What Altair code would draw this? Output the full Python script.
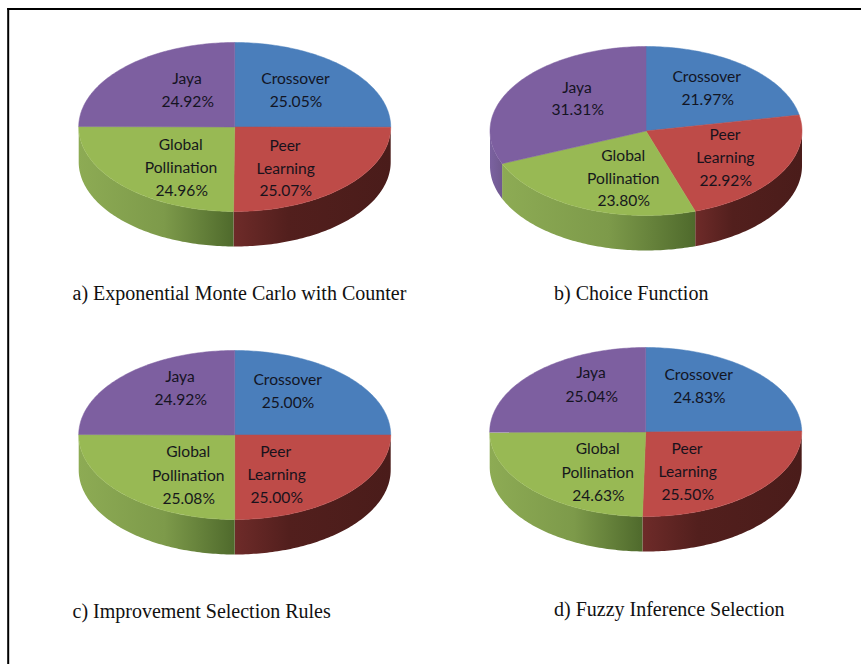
import math
import altair as alt
import pandas as pd

# Share of each low-level heuristic under the four selection methods
captions = [
    "a) Exponential Monte Carlo with Counter",
    "b) Choice Function",
    "c) Improvement Selection Rules",
    "d) Fuzzy Inference Selection",
]
slice_names = ["Crossover", "Peer Learning", "Global Pollination", "Jaya"]
crossover = [25.05, 21.97, 25.00, 24.83]
peer_learning = [25.07, 22.92, 25.00, 25.50]
global_pollination = [24.96, 23.80, 25.08, 24.63]
jaya = [24.92, 31.31, 24.92, 25.04]

# Page layout, in pixels
WIDTH, HEIGHT = 861, 664
pie_cx = [234.7, 646.0, 234.7, 645.7]
pie_cy = [127.0, 131.0, 435.0, 432.0]
RX, RY, DEPTH = 156.0, 84.5, 35.0
caption_x = [72.5, 554.0, 72.5, 554.0]
caption_y = [293.5, 293.5, 612.0, 609.5]

# Label block anchors: one (x, y) per text line, same order as the slices
label_lines = [
    [
        [(295.5, 79), (296, 101.7)],
        [(285, 145.5), (285.7, 168.5), (285.7, 191)],
        [(180.7, 145), (181, 167.7), (181.7, 190.7)],
        [(187, 79), (187.7, 101.7)],
    ],
    [
        [(706.7, 77.3), (707.7, 100)],
        [(725, 135), (725.3, 158), (725.7, 180.7)],
        [(623.3, 155.7), (623.3, 178.7), (623.7, 201.3)],
        [(577, 87.7), (577.7, 110)],
    ],
    [
        [(287.7, 380), (288, 402.7)],
        [(275.7, 452), (276.7, 475.3), (276.7, 498)],
        [(188.3, 452.3), (188.3, 475.7), (188.7, 499)],
        [(180, 376.7), (180.7, 400)],
    ],
    [
        [(698.7, 375), (699.3, 398)],
        [(687, 449.3), (687.7, 472.3), (687.7, 494.7)],
        [(597.7, 449.3), (597.7, 472.7), (598.3, 495.7)],
        [(591, 373.3), (591.7, 396.7)],
    ],
]
name_lines = [["Crossover"], ["Peer", "Learning"], ["Global", "Pollination"], ["Jaya"]]

top_colors = ["#4A7EBB", "#BE4B48", "#98B954", "#7D5FA0"]
# Side-wall shading, left to right: (offset, colour) stops per slice
wall_stops = [
    [(0, "#3A6390"), (1, "#2E4F73")],
    [(0, "#6E2B29"), (0.35, "#521F1D"), (1, "#4A1C1A")],
    [(0, "#8DAB54"), (0.55, "#7D9A4A"), (1, "#4F6A2C")],
    [(0, "#7B62A0"), (1, "#70598F")],
]

x_enc = alt.X("x:Q", scale=alt.Scale(domain=[0, WIDTH], nice=False, zero=False), axis=None)
y_enc = alt.Y("y:Q", scale=alt.Scale(domain=[HEIGHT, 0], nice=False, zero=False), axis=None)
y2_enc = alt.Y2("y2:Q")


def edge_point(cx, cy, degrees):
    rad = math.radians(degrees)
    return cx + RX * math.sin(rad), cy - RY * math.cos(rad)


series = [crossover, peer_learning, global_pollination, jaya]
top_rows = []
wall_layers = []
text_rows = []

for p in range(4):
    cx, cy = pie_cx[p], pie_cy[p]
    start = 0.0
    for s, values in enumerate(series):
        value = values[p]
        end = start + value * 3.6
        key = f"{p}-{s}"

        # Flat top of the slice: centre, then along the rim
        top_rows.append({"key": key, "slice": slice_names[s], "i": 0, "x": cx, "y": cy})
        steps = max(4, int(end - start))
        for k in range(steps + 1):
            x, y = edge_point(cx, cy, start + (end - start) * k / steps)
            top_rows.append({"key": key, "slice": slice_names[s], "i": k + 1, "x": x, "y": y})
        top_rows.append({"key": key, "slice": slice_names[s], "i": steps + 2, "x": cx, "y": cy})

        # Side wall: only the part of the rim that faces the viewer
        lo, hi = max(start, 90.0), min(end, 270.0)
        if hi - lo > 0.5:
            rows = []
            n = max(4, int(hi - lo))
            for k in range(n + 1):
                x, y = edge_point(cx, cy, lo + (hi - lo) * k / n)
                rows.append({"x": x, "y": y, "y2": y + DEPTH})
            gradient = alt.Gradient(
                gradient="linear", x1=0, x2=1, y1=0, y2=0,
                stops=[alt.GradientStop(color=c, offset=o) for o, c in wall_stops[s]],
            )
            wall_layers.append(
                alt.Chart(pd.DataFrame(rows))
                .mark_area(color=gradient, interpolate="linear")
                .encode(x=x_enc, y=y_enc, y2=y2_enc)
            )

        # Slice label: name lines followed by the percentage
        lines = name_lines[s] + [f"{value:.2f}%"]
        for text, (tx, ty) in zip(lines, label_lines[p][s]):
            text_rows.append({"x": tx, "y": ty, "label": text})

        start = end

tops = (
    alt.Chart(pd.DataFrame(top_rows))
    .mark_line(strokeWidth=0.5, interpolate="linear")
    .encode(
        x=x_enc,
        y=y_enc,
        order=alt.Order("i:Q"),
        detail=alt.Detail("key:N"),
        fill=alt.Fill("slice:N", scale=alt.Scale(domain=slice_names, range=top_colors), legend=None),
        stroke=alt.Stroke("slice:N", scale=alt.Scale(domain=slice_names, range=top_colors), legend=None),
    )
)

labels = (
    alt.Chart(pd.DataFrame(text_rows))
    .mark_text(font="Lato", fontSize=15.6, align="center", baseline="middle", color="#10101a", opacity=0.95)
    .encode(x=x_enc, y=y_enc, text="label:N")
)

caption_text = (
    alt.Chart(pd.DataFrame({"x": caption_x, "y": caption_y, "label": captions}))
    .mark_text(font="Liberation Serif", fontSize=20, align="left", baseline="middle", color="#111111")
    .encode(x=x_enc, y=y_enc, text="label:N")
)

frame_left = (
    alt.Chart(pd.DataFrame({"x": [8.2], "y": [8.0], "y2": [HEIGHT]}))
    .mark_rule(color="black", strokeWidth=2)
    .encode(x=x_enc, y=y_enc, y2=y2_enc)
)
frame_top = (
    alt.Chart(pd.DataFrame({"x": [7.2], "x2": [WIDTH], "y": [9.0]}))
    .mark_rule(color="black", strokeWidth=2)
    .encode(x=x_enc, x2="x2:Q", y=y_enc)
)

chart = (
    alt.layer(*wall_layers, tops, labels, caption_text, frame_left, frame_top)
    .properties(
        width=WIDTH,
        height=HEIGHT,
        padding=0,
        autosize=alt.AutoSizeParams(type="none"),
        background="white",
    )
    .configure_view(stroke=None)
)

chart.save("out.html", embed_options={"renderer": "svg", "actions": False})
